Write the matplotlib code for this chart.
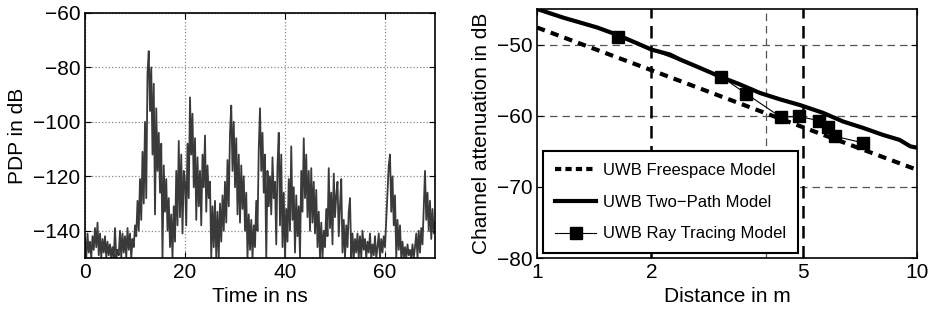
import numpy as np
import matplotlib
matplotlib.use('Agg')
import matplotlib.pyplot as plt
from matplotlib.lines import Line2D

plt.rcParams['font.family'] = ['Liberation Sans', 'DejaVu Sans']

# Left panel: power delay profile, sampled every 0.25 ns from 0 to 70 ns
pdp_db = [
    -143, -150, -141, -148, -144, -150, -142, -147, -139, -146, -137, -149, -141, -150, -143, -148, -142, -150, -144, -149,
    -145, -150, -146, -150, -139, -150, -147, -149, -140, -150, -141, -148, -142, -150, -139, -147, -141, -150, -143, -146,
    -138, -142, -129, -140, -121, -136, -111, -130, -100, -128, -82, -74, -96, -80, -112, -86, -134, -95, -118, -104,
    -126, -108, -150, -116, -133, -121, -140, -128, -146, -134, -150, -131, -144, -118, -138, -107, -135, -112, -141, -118,
    -122, -138, -108, -128, -91, -112, -97, -124, -106, -136, -113, -131, -118, -138, -112, -124, -105, -133, -116, -128,
    -122, -150, -131, -146, -129, -150, -133, -150, -130, -144, -127, -140, -122, -137, -114, -131, -104, -94, -118, -100,
    -124, -106, -134, -112, -137, -116, -132, -120, -140, -126, -150, -134, -147, -136, -150, -138, -146, -129, -140, -110,
    -95, -118, -104, -126, -112, -150, -118, -131, -120, -134, -113, -128, -122, -145, -116, -104, -138, -112, -146, -126,
    -150, -132, -144, -121, -140, -109, -136, -124, -148, -127, -142, -131, -150, -118, -133, -106, -128, -112, -135, -118,
    -140, -117, -137, -122, -141, -125, -146, -133, -150, -137, -150, -140, -146, -132, -142, -117, -139, -126, -145, -119,
    -135, -127, -122, -142, -131, -121, -148, -136, -150, -138, -146, -133, -128, -150, -141, -150, -143, -148, -141, -150,
    -142, -150, -140, -147, -143, -150, -144, -148, -141, -150, -145, -149, -142, -150, -146, -141, -150, -143, -148, -142,
    -146, -136, -126, -116, -112, -133, -120, -138, -127, -150, -136, -147, -138, -150, -144, -150, -146, -150, -145, -149,
    -147, -150, -145, -150, -146, -141, -150, -140, -148, -139, -145, -131, -118, -136, -126, -140, -129, -143, -132, -141,
    -137,
]
time_ns = np.linspace(0, 70, len(pdp_db))

# Right panel: channel attenuation vs distance
free_d = [1, 2, 5, 10]
free_db = [-47.6, -53.6, -61.6, -67.6]

two_d = [1.0, 1.17, 1.44, 1.62, 1.83, 2.0, 2.24, 2.38, 2.69, 3.03, 3.42, 3.86, 4.36, 4.92, 5.66, 6.38, 7.2, 8.14, 9.0, 9.6, 10.0]
two_db = [-45.0, -46.2, -47.6, -48.6, -49.8, -50.7, -51.4, -52.1, -53.3, -54.5, -55.6, -56.8, -57.7, -58.5, -59.6, -60.8, -61.7, -62.7, -63.4, -64.3, -64.5]

ray_d = [1.63, 3.05, 3.55, 4.38, 4.88, 5.53, 5.82, 6.09, 7.19]
ray_db = [-48.9, -54.5, -56.9, -60.2, -60.1, -60.7, -61.6, -62.9, -63.8]

fig = plt.figure(figsize=(9.39, 3.2), dpi=100)

# PDP plot
ax1 = fig.add_axes([85/939, 62/320, 350/939, 245/320])
ax1.plot(time_ns, pdp_db, color='#3a3a3a', lw=1.3)
ax1.set_xlim(0, 70)
ax1.set_ylim(-150, -60)
ax1.set_xticks([0, 20, 40, 60])
ax1.set_yticks([-140, -120, -100, -80, -60])
ax1.set_yticklabels(['\u2212140', '\u2212120', '\u2212100', '\u221280', '\u221260'])
ax1.grid(True, ls=':', color='#888888', lw=0.9)
ax1.set_xlabel('Time in ns', fontsize=15)
ax1.set_ylabel('PDP in dB', fontsize=15)

# attenuation plot
ax2 = fig.add_axes([537/939, 62/320, 380/939, 249/320])
ax2.set_xscale('log')
for y in [-50, -60, -70]:
    ax2.axhline(y, ls=(0, (6, 4)), color='#555555', lw=0.9, zorder=1)
ax2.axvline(4, ls=(0, (6, 4)), color='#555555', lw=0.9, zorder=1)
for x in [2, 5]:
    ax2.axvline(x, ls=(0, (5, 3)), color='black', lw=1.8, zorder=1)

ax2.plot(free_d, free_db, color='black', lw=3, dashes=(2.0, 1.5), zorder=3)
ax2.plot(two_d, two_db, color='black', lw=3, solid_capstyle='butt', zorder=3)
ax2.plot(ray_d, ray_db, color='black', lw=0.8, marker='s', ms=8.5, zorder=4)

ax2.set_xlim(1, 10)
ax2.set_ylim(-80, -45)
ax2.set_xticks([1, 2, 5, 10])
ax2.set_xticklabels(['1', '2', '5', '10'])
ax2.xaxis.set_minor_locator(matplotlib.ticker.NullLocator())
ax2.set_yticks([-80, -70, -60, -50])
ax2.set_yticklabels(['\u221280', '\u221270', '\u221260', '\u221250'])
ax2.set_xlabel('Distance in m', fontsize=15)
ax2.set_ylabel('Channel attenuation in dB', fontsize=15)

handles = [
    Line2D([], [], color='black', lw=3, dashes=(1.5, 1.0)),
    Line2D([], [], color='black', lw=3),
    Line2D([], [], color='black', lw=0.8, marker='s', ms=8.5),
]
labels = ['UWB Freespace Model', 'UWB Two\u2212Path Model', 'UWB Ray Tracing Model']
leg = ax2.legend(handles, labels, loc='lower left', bbox_to_anchor=(0.016, 0.02),
                 borderaxespad=0, fontsize=12, handlelength=2.5, handletextpad=0.4,
                 labelspacing=1.0, borderpad=0.7, fancybox=False, framealpha=1)
leg.get_frame().set_edgecolor('black')
leg.get_frame().set_linewidth(1.5)
leg.set_zorder(5)

for ax in (ax1, ax2):
    ax.tick_params(direction='in', top=True, right=True, labelsize=15, length=4)
    for s in ax.spines.values():
        s.set_linewidth(1.2)

fig.savefig('out.png', dpi=100)
